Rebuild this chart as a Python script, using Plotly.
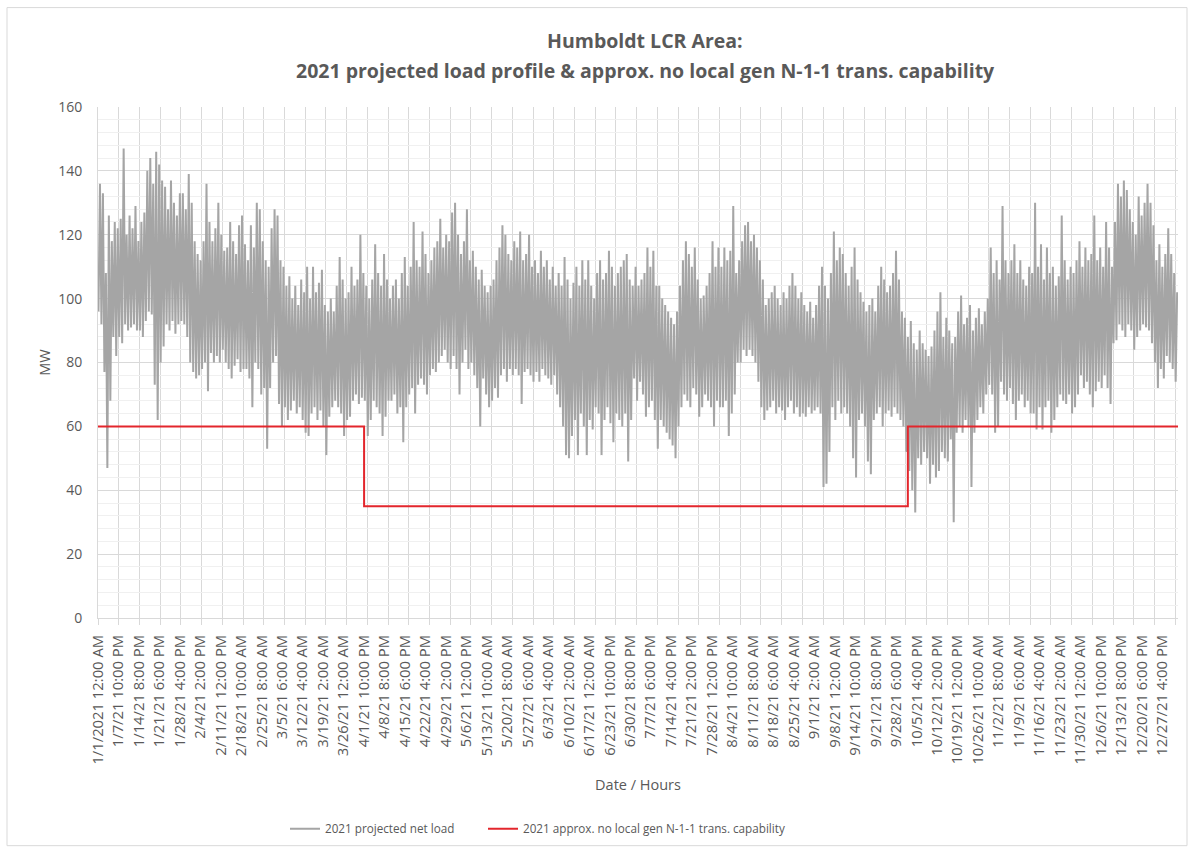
import plotly.graph_objects as go

# ---------------- data ----------------
TICK_LABELS = [
    "1/1/2021 12:00 AM", "1/7/21 10:00 PM", "1/14/21 8:00 PM", "1/21/21 6:00 PM",
    "1/28/21 4:00 PM", "2/4/21 2:00 PM", "2/11/21 12:00 PM", "2/18/21 10:00 AM",
    "2/25/21 8:00 AM", "3/5/21 6:00 AM", "3/12/21 4:00 AM", "3/19/21 2:00 AM",
    "3/26/21 12:00 AM", "4/1/21 10:00 PM", "4/8/21 8:00 PM", "4/15/21 6:00 PM",
    "4/22/21 4:00 PM", "4/29/21 2:00 PM", "5/6/21 12:00 PM", "5/13/21 10:00 AM",
    "5/20/21 8:00 AM", "5/27/21 6:00 AM", "6/3/21 4:00 AM", "6/10/21 2:00 AM",
    "6/17/21 12:00 AM", "6/23/21 10:00 PM", "6/30/21 8:00 PM", "7/7/21 6:00 PM",
    "7/14/21 4:00 PM", "7/21/21 2:00 PM", "7/28/21 12:00 PM", "8/4/21 10:00 AM",
    "8/11/21 8:00 AM", "8/18/21 6:00 AM", "8/25/21 4:00 AM", "9/1/21 2:00 AM",
    "9/8/21 12:00 AM", "9/14/21 10:00 PM", "9/21/21 8:00 PM", "9/28/21 6:00 PM",
    "10/5/21 4:00 PM", "10/12/21 2:00 PM", "10/19/21 12:00 PM", "10/26/21 10:00 AM",
    "11/2/21 8:00 AM", "11/9/21 6:00 AM", "11/16/21 4:00 AM", "11/23/21 2:00 AM",
    "11/30/21 12:00 AM", "12/6/21 10:00 PM", "12/13/21 8:00 PM", "12/20/21 6:00 PM",
    "12/27/21 4:00 PM",
]
LABEL_STEP_ROWS = 166  # one date label every 166 hourly rows
GRID_STEP_ROWS = 168   # tick marks / vertical gridlines every 168 rows

# estimated daily peak (MW) of the projected net load (365 days)
DAILY_HIGH = [
    136, 133, 108, 126, 118, 124, 122,
    125, 147, 120, 126, 122, 129, 118,
    124, 127, 140, 144, 136, 146, 142,
    137, 135, 128, 137, 130, 126, 133,
    133, 128, 139, 130, 118, 114, 112,
    118, 136, 124, 118, 122, 130, 120, 115,
    116, 124, 118, 114, 123, 126, 117,
    112, 123, 116, 130, 128, 118, 112,
    110, 122, 128, 126, 112, 110, 104,
    107, 100, 104, 98, 106, 102, 110,
    100, 110, 102, 105, 109, 98, 96,
    100, 96, 104, 113, 106, 100, 102,
    110, 104, 106, 120, 108, 104, 100,
    106, 117, 108, 104, 114, 106, 100,
    104, 106, 100, 108, 113, 104, 110,
    124, 112, 110, 121, 114, 108, 112,
    116, 118, 125, 116, 120, 118, 127,
    130, 120, 114, 118, 128, 112, 115,
    110, 106, 109, 104, 102, 104, 106, 112,
    116, 123, 120, 114, 112, 118, 116,
    121, 112, 114, 120, 110, 112, 108,
    115, 110, 112, 106, 110, 104, 108,
    104, 113, 106, 100, 105, 110, 104,
    112, 106, 112, 104, 100, 108, 112,
    106, 108, 115, 110, 104, 108, 110,
    112, 114, 106, 104, 110, 104, 106,
    108, 116, 110, 115, 104, 104, 100,
    98, 96, 94, 92, 96, 104, 112,
    118, 114, 110, 116, 106, 100, 101,
    104, 108, 118, 110, 116, 110, 116,
    112, 115, 129, 108, 112, 118, 123,
    124, 118, 120, 116, 112, 106, 98, 100,
    102, 104, 100, 98, 102, 100, 104,
    108, 104, 100, 102, 98, 96, 99,
    94, 98, 104, 110, 104, 100, 108,
    121, 112, 116, 114, 108, 104, 110,
    116, 106, 102, 99, 96, 98, 100,
    96, 104, 110, 106, 102, 104, 108,
    115, 106, 96, 94, 88, 93, 86,
    84, 90, 86, 84, 82, 85, 90,
    96, 102, 88, 94, 90, 86, 88,
    96, 101, 92, 94, 98, 90, 94,
    97, 92, 96, 100, 116, 108, 112,
    106, 129, 112, 108, 112, 117, 108,
    112, 106, 104, 110, 108, 130, 110, 117,
    106, 116, 108, 110, 104, 107, 126,
    112, 106, 110, 108, 112, 118, 110,
    116, 112, 114, 126, 112, 116, 110,
    124, 116, 110, 124, 136, 132, 137,
    134, 128, 124, 120, 132, 126, 130,
    136, 130, 123, 112, 117, 110, 114,
    122, 114, 108, 102,
]

# estimated daily minimum (MW) of the projected net load (365 days)
DAILY_LOW = [
    96, 92, 77, 47, 68, 88, 82,
    88, 86, 92, 90, 91, 92, 90,
    90, 88, 93, 96, 95, 73, 62,
    80, 85, 92, 90, 93, 89, 92,
    93, 92, 88, 80, 77, 75, 76,
    78, 80, 71, 83, 80, 82, 80, 84,
    80, 78, 75, 79, 81, 77, 78,
    78, 75, 66, 80, 78, 70, 72,
    53, 72, 80, 82, 67, 60, 66,
    62, 65, 68, 64, 66, 62, 58,
    57, 64, 66, 62, 65, 60, 51,
    63, 66, 68, 66, 64, 57, 62,
    63, 68, 70, 67, 69, 68, 57,
    62, 68, 66, 64, 57, 63, 68,
    68, 70, 64, 66, 55, 66, 70,
    72, 64, 73, 75, 73, 70, 76,
    78, 77, 80, 82, 84, 80, 78,
    82, 78, 70, 80, 84, 78, 80,
    76, 72, 60, 75, 70, 66, 68, 72,
    69, 76, 78, 74, 78, 76, 78,
    76, 67, 77, 78, 76, 74, 77,
    74, 78, 76, 75, 73, 76, 70,
    66, 60, 51, 50, 57, 62, 51,
    64, 60, 51, 62, 59, 66, 64,
    51, 62, 66, 61, 55, 64, 62,
    60, 64, 49, 62, 75, 68, 74,
    70, 63, 66, 68, 62, 53, 62,
    60, 58, 56, 54, 50, 60, 66,
    70, 68, 66, 72, 70, 63, 66,
    70, 68, 66, 60, 68, 66, 66,
    68, 57, 64, 70, 80, 80, 84,
    82, 84, 82, 80, 74, 66, 62, 65,
    66, 68, 64, 66, 65, 62, 66,
    68, 64, 66, 63, 64, 63, 66,
    64, 65, 66, 64, 41, 42, 52,
    66, 62, 68, 64, 66, 64, 60,
    50, 44, 62, 64, 60, 49, 45,
    62, 64, 66, 60, 64, 65, 63,
    66, 64, 62, 60, 52, 46, 40,
    33, 50, 48, 52, 50, 42, 48,
    44, 46, 52, 50, 49, 56, 30,
    58, 60, 58, 62, 60, 41, 58,
    62, 66, 64, 70, 73, 70, 58,
    60, 74, 70, 68, 72, 67, 62,
    68, 70, 66, 68, 64, 64, 59, 66,
    59, 66, 68, 58, 62, 66, 70,
    68, 67, 70, 64, 66, 70, 76,
    72, 74, 70, 66, 71, 74, 72,
    76, 72, 67, 86, 87, 92, 90,
    88, 92, 90, 84, 88, 90, 92,
    91, 90, 86, 80, 72, 78, 75,
    82, 80, 78, 74,
]

HOURS_PER_DAY = 24
LOW_HOUR = 4     # hour of the day where the daily minimum is placed
HIGH_HOUR = 16   # hour of the day where the daily peak is placed

# N-1-1 transmission capability (MW), changes at these hourly rows
CAP_START_ROWS = [0, 2158, 6568]
CAP_VALUES = [60, 35, 60]

# ---------------- build series ----------------
n_days = len(DAILY_HIGH)
last_row = n_days * HOURS_PER_DAY - 1

load_x, load_y = [], []
for d in range(n_days):
    load_x.append(d * HOURS_PER_DAY + LOW_HOUR)
    load_y.append(DAILY_LOW[d])
    load_x.append(d * HOURS_PER_DAY + HIGH_HOUR)
    load_y.append(DAILY_HIGH[d])

cap_x = CAP_START_ROWS + [last_row]
cap_y = CAP_VALUES + [CAP_VALUES[-1]]

label_vals = [i * LABEL_STEP_ROWS for i in range(len(TICK_LABELS))]

TEXT = "#595959"
GRID = "#D9D9D9"
FONT = "Open Sans"

fig = go.Figure()
fig.add_trace(go.Scatter(
    x=load_x, y=load_y, mode="lines",
    line=dict(color="#A5A5A5", width=2),
    name="2021 projected net load",
    legend="legend",
))
fig.add_trace(go.Scatter(
    x=cap_x, y=cap_y, mode="lines",
    line=dict(color="#E3262C", width=2, shape="hv"),
    name="2021 approx. no local gen N-1-1 trans. capability",
    legend="legend2",
))

W, H = 1190, 855
ML, MR, MT, MB = 98, 12, 107, 234
pw, ph = W - ML - MR, H - MT - MB


def px_x(p):
    return (p - ML) / pw


def px_y(p):
    return (H - MB - p) / ph


legend_common = dict(
    orientation="h", xanchor="left",
    y=px_y(833), yanchor="middle",
    font=dict(family=FONT, size=11.7, color=TEXT),
    bgcolor="rgba(0,0,0,0)",
)

fig.update_layout(
    width=W, height=H,
    margin=dict(l=ML, r=MR, t=MT, b=MB),
    paper_bgcolor="white", plot_bgcolor="white",
    font=dict(family=FONT, color=TEXT, size=14),
    showlegend=True,
    legend=dict(x=px_x(285), **legend_common),
    legend2=dict(x=px_x(483), **legend_common),
    xaxis=dict(
        range=[0, last_row],
        tickmode="array", tickvals=label_vals, ticktext=TICK_LABELS,
        tickangle=-90,
        tickfont=dict(size=14.8, color=TEXT),
        showgrid=False,
        ticks="", ticklabelstandoff=10,
        minor=dict(tickmode="linear", tick0=0, dtick=GRID_STEP_ROWS,
                   showgrid=True, gridcolor=GRID, gridwidth=1,
                   ticks="outside", ticklen=6, tickcolor=GRID),
        showline=True, linecolor=GRID, linewidth=1,
        zeroline=False,
        title=dict(text="Date / Hours", font=dict(size=14.5, color=TEXT), standoff=16),
    ),
    yaxis=dict(
        range=[0, 160], dtick=20,
        tickfont=dict(size=14, color=TEXT),
        showgrid=True, gridcolor=GRID, gridwidth=1,
        minor=dict(dtick=4, showgrid=True, gridcolor="#F0F0F0", gridwidth=1),
        ticks="", ticklabelstandoff=12,
        showline=True, linecolor=GRID, linewidth=1, zeroline=False,
        title=dict(text="MW", font=dict(size=14.5, color=TEXT), standoff=4),
    ),
    annotations=[
        dict(text="<b>Humboldt LCR Area:</b>", xref="paper", yref="paper",
             x=px_x(645), y=px_y(40), xanchor="center", yanchor="middle",
             showarrow=False, font=dict(family=FONT, size=19.5, color=TEXT)),
        dict(text="<b>2021 projected load profile &amp; approx. no local gen N-1-1 trans. capability</b>",
             xref="paper", yref="paper",
             x=px_x(645), y=px_y(70), xanchor="center", yanchor="middle",
             showarrow=False, font=dict(family=FONT, size=19.5, color=TEXT)),
    ],
)

# chart-area border (like the spreadsheet chart frame)
fig.add_shape(
    type="rect", xref="paper", yref="paper", layer="below",
    x0=px_x(7), x1=px_x(W - 3), y0=px_y(H - 5), y1=px_y(7),
    line=dict(color="#D9D9D9", width=1), fillcolor="rgba(0,0,0,0)",
)

fig.write_html(
    "out.html",
    config={"displayModeBar": False},
    post_script="document.body.style.margin='0';document.body.style.overflow='hidden';",
)
